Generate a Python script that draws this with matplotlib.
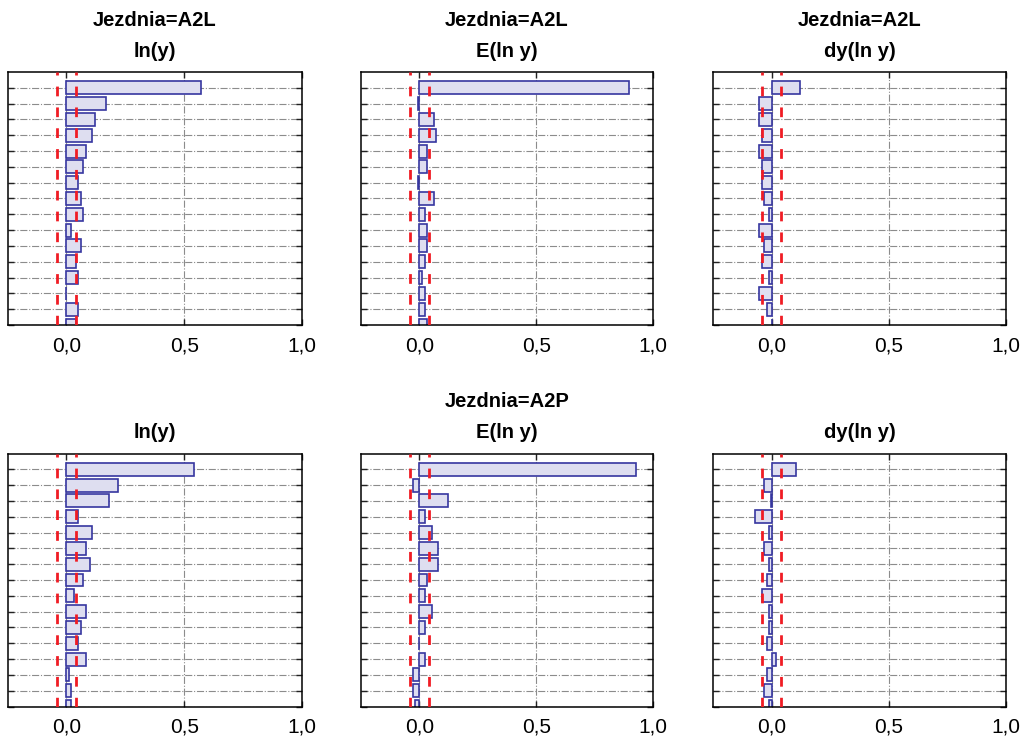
import numpy as np
import matplotlib
matplotlib.use("Agg")
import matplotlib.pyplot as plt

plt.rcParams['font.family'] = ['Liberation Sans', 'DejaVu Sans']

rows = np.arange(1, 17)

# top row: Jezdnia=A2L
a2l_ln = [0.570, 0.170, 0.121, 0.110, 0.082, 0.072, 0.051, 0.061,
          0.072, 0.020, 0.061, 0.042, 0.049, -0.003, 0.049, 0.039]
a2l_eln = [0.896, -0.004, 0.062, 0.073, 0.032, 0.032, -0.004, 0.063,
           0.022, 0.032, 0.032, 0.022, 0.013, 0.022, 0.022, 0.032]
a2l_dy = [0.122, -0.052, -0.052, -0.042, -0.052, -0.042, -0.042, -0.032,
          -0.011, -0.052, -0.032, -0.042, -0.011, -0.052, -0.021, 0.0]

# bottom row: Jezdnia=A2P
a2p_ln = [0.542, 0.220, 0.180, 0.051, 0.110, 0.082, 0.101, 0.072,
          0.031, 0.082, 0.061, 0.051, 0.082, 0.011, 0.021, 0.021]
a2p_eln = [0.927, -0.029, 0.122, 0.022, 0.052, 0.081, 0.081, 0.032,
           0.022, 0.052, 0.022, -0.003, 0.022, -0.029, -0.029, -0.020]
a2p_dy = [0.102, -0.032, -0.004, -0.072, -0.011, -0.032, -0.011, -0.021,
          -0.042, -0.011, -0.011, -0.021, 0.020, -0.021, -0.032, -0.011]

limits = [-0.04, 0.04]
xticks = [0.0, 0.5, 1.0]
xticklabels = ['0,0', '0,5', '1,0']

panels = [
    (a2l_ln, 'Jezdnia=A2L\nln(y)'),
    (a2l_eln, 'Jezdnia=A2L\nE(ln y)'),
    (a2l_dy, 'Jezdnia=A2L\ndy(ln y)'),
    (a2p_ln, 'ln(y)'),
    (a2p_eln, 'Jezdnia=A2P\nE(ln y)'),
    (a2p_dy, 'dy(ln y)'),
]

W, H = 1025, 742
fig = plt.figure(figsize=(W / 100, H / 100), dpi=100)

lefts = [7.5, 361, 713]
widths = [294.5, 292, 293]
tops = [72, 453.5]
height = 253

for i, (vals, title) in enumerate(panels):
    r, c = divmod(i, 3)
    ax = fig.add_axes([lefts[c] / W, 1 - (tops[r] + height) / H, widths[c] / W, height / H])
    ax.barh(rows, vals, height=0.82, color='#dedef0', edgecolor='#3636a0', linewidth=1.2, zorder=2)
    for lim in limits:
        ax.axvline(lim, color='#f01c24', linewidth=2.0, dashes=(3.5, 4), zorder=3)
    ax.set_xlim(-0.25, 1.0)
    ax.set_ylim(16, 0)
    ax.set_yticks(rows)
    ax.set_yticklabels([])
    ax.set_xticks(xticks)
    ax.set_xticklabels(xticklabels, fontsize=15)
    ax.grid(True, color='#8c8c8c', linestyle='-.', linewidth=0.8, zorder=0)
    ax.set_axisbelow(True)
    ax.tick_params(direction='in', length=4, width=1, top=True, right=True, pad=8,
                   color='#222222')
    for s in ax.spines.values():
        s.set_linewidth(1.1)
    ax.set_title(title, fontsize=14.5, fontweight='bold', linespacing=1.8, pad=11)

fig.savefig('out.png', dpi=100)
